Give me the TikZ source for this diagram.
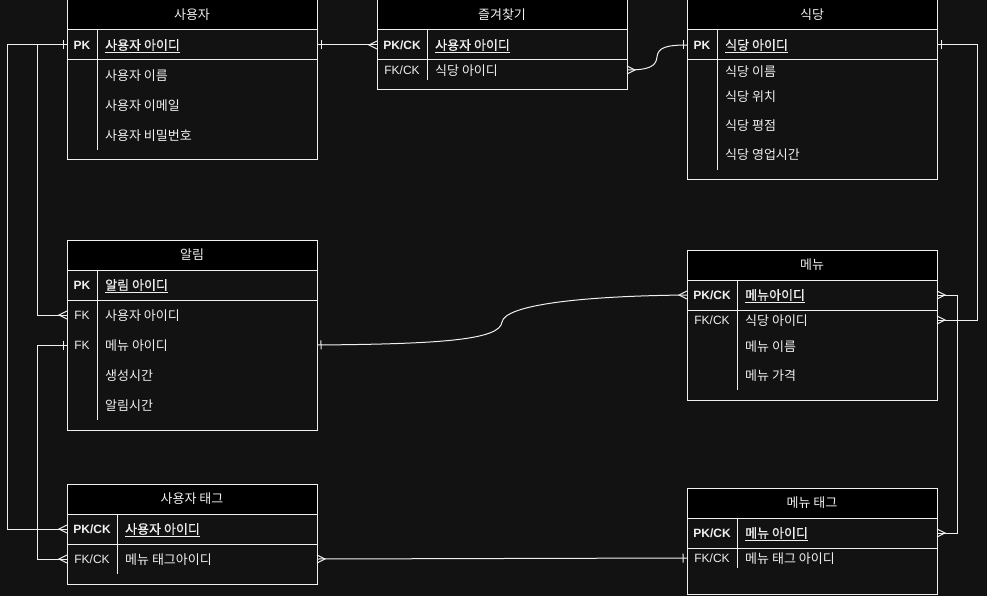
\documentclass[tikz,border=0pt]{standalone}
\usepackage{fontspec}
\setmainfont{Liberation Sans}
\newfontfamily\kr{Noto Sans CJK KR}
\newfontfamily\krbold[FakeBold=0.8]{Noto Sans CJK KR}
\definecolor{bgcol}{HTML}{121212}
\definecolor{linecol}{HTML}{F0F0F0}
\definecolor{textcol}{HTML}{F0F0F0}
\newcommand\erfont{\fontsize{12pt}{14pt}\selectfont}
\newcommand\krfont{\fontsize{13pt}{15pt}\selectfont}

% ER end marks
\pgfdeclarearrow{
  name = erone,
  setup code = {
    \pgfarrowssettipend{0pt}
    \pgfarrowssetlineend{0pt}
    \pgfarrowssetbackend{-5pt}
    \pgfarrowssetvisualbackend{-5pt}
    \pgfarrowshullpoint{-4pt}{4.5pt}
    \pgfarrowshullpoint{-4pt}{-4.5pt}
  },
  drawing code = {
    \pgfpathmoveto{\pgfpoint{-4pt}{4.5pt}}
    \pgfpathlineto{\pgfpoint{-4pt}{-4.5pt}}
    \pgfusepathqstroke
  }
}
\pgfdeclarearrow{
  name = ermany,
  setup code = {
    \pgfarrowssettipend{0pt}
    \pgfarrowssetlineend{0pt}
    \pgfarrowssetbackend{-8pt}
    \pgfarrowssetvisualbackend{-8pt}
    \pgfarrowshullpoint{0pt}{4pt}
    \pgfarrowshullpoint{0pt}{-4pt}
    \pgfarrowshullpoint{-8pt}{0pt}
  },
  drawing code = {
    \pgfpathmoveto{\pgfpoint{0pt}{4pt}}
    \pgfpathlineto{\pgfpoint{-8pt}{0pt}}
    \pgfpathlineto{\pgfpoint{0pt}{-4pt}}
    \pgfusepathqstroke
  }
}

\tikzset{
  tablebox/.style={draw=linecol, line width=1pt, anchor=north west, inner sep=0pt, outer sep=0pt},
  headbox/.style={draw=linecol, fill=black, line width=1pt, minimum height=30pt, anchor=north west,
    inner sep=0pt, outer sep=0pt, font=\kr\krfont, text=textcol},
  rowbox/.style={minimum height=30pt, anchor=west, inner sep=0pt, outer sep=0pt},
  keytext/.style={font=\erfont\bfseries, text=textcol, inner sep=0pt},
  keyplain/.style={font=\erfont, text=textcol, inner sep=0pt},
  keyfield/.style={font=\krbold\krfont, text=textcol, anchor=west, inner sep=0pt, yshift=-1pt},
  fieldtext/.style={font=\kr\krfont, text=textcol, anchor=west, inner sep=0pt, yshift=-1pt},
  sepline/.style={draw=linecol, line width=1pt},
  link/.style={draw=linecol, line width=1pt},
}

\begin{document}
\begin{tikzpicture}[x=1pt, y=-1pt]
	\fill[bgcol] (0,0) rectangle (987,596);
	\useasboundingbox (0,0) rectangle (987,596);
	
	% 사용자
	\node[tablebox, minimum width=250pt, minimum height=160pt] (user) at (67,0) {};
	\node[headbox, minimum width=250pt] (user-head) at (67,0) {사용자};
	\node[rowbox, minimum width=250pt] (user-id) at (67,45) {};
	\draw[sepline] (user-id.south west) -- (user-id.south east);
	\draw[sepline] (97,30) -- (97,150);
	\node[keytext] at (82,45) {PK};
	\node[keyfield] at (105,45) {\underline{사용자 아이디}};
	\node[fieldtext] at (105,75) {사용자 이름};
	\node[fieldtext] at (105,105) {사용자 이메일};
	\node[fieldtext] at (105,135) {사용자 비밀번호};
	
	% 즐겨찾기
	\node[tablebox, minimum width=250pt, minimum height=90pt] (fav) at (377,0) {};
	\node[headbox, minimum width=250pt] (fav-head) at (377,0) {즐겨찾기};
	\node[rowbox, minimum width=250pt] (fav-id) at (377,45) {};
	\node[rowbox, minimum width=250pt, minimum height=20pt] (fav-rest) at (377,70) {};
	\draw[sepline] (fav-id.south west) -- (fav-id.south east);
	\draw[sepline] (427,30) -- (427,80);
	\node[keytext] at (402,45) {PK/CK};
	\node[keyfield] at (435,45) {\underline{사용자 아이디}};
	\node[keyplain] at (402,70) {FK/CK};
	\node[fieldtext] at (435,70) {식당 아이디};
	
	% 식당
	\node[tablebox, minimum width=250pt, minimum height=180pt] (rest) at (687,0) {};
	\node[headbox, minimum width=250pt] (rest-head) at (687,0) {식당};
	\node[rowbox, minimum width=250pt] (rest-id) at (687,45) {};
	\draw[sepline] (rest-id.south west) -- (rest-id.south east);
	\draw[sepline] (717,30) -- (717,170);
	\node[keytext] at (702,45) {PK};
	\node[keyfield] at (725,45) {\underline{식당 아이디}};
	\node[fieldtext] at (725,71) {식당 이름};
	\node[fieldtext] at (725,96) {식당 위치};
	\node[fieldtext] at (725,125) {식당 평점};
	\node[fieldtext] at (725,154) {식당 영업시간};
	
	% 알림
	\node[tablebox, minimum width=250pt, minimum height=190pt] (alarm) at (67,240) {};
	\node[headbox, minimum width=250pt] (alarm-head) at (67,240) {알림};
	\node[rowbox, minimum width=250pt] (alarm-id) at (67,285) {};
	\node[rowbox, minimum width=250pt] (alarm-user) at (67,315) {};
	\node[rowbox, minimum width=250pt] (alarm-menu) at (67,345) {};
	\draw[sepline] (alarm-id.south west) -- (alarm-id.south east);
	\draw[sepline] (97,270) -- (97,420);
	\node[keytext] at (82,285) {PK};
	\node[keyfield] at (105,285) {\underline{알림 아이디}};
	\node[keyplain] at (82,315) {FK};
	\node[fieldtext] at (105,315) {사용자 아이디};
	\node[keyplain] at (82,345) {FK};
	\node[fieldtext] at (105,345) {메뉴 아이디};
	\node[fieldtext] at (105,375) {생성시간};
	\node[fieldtext] at (105,405) {알림시간};
	
	% 메뉴
	\node[tablebox, minimum width=250pt, minimum height=150pt] (menu) at (687,250) {};
	\node[headbox, minimum width=250pt] (menu-head) at (687,250) {메뉴};
	\node[rowbox, minimum width=250pt] (menu-id) at (687,295) {};
	\node[rowbox, minimum width=250pt, minimum height=20pt] (menu-rest) at (687,320) {};
	\draw[sepline] (menu-id.south west) -- (menu-id.south east);
	\draw[sepline] (737,280) -- (737,390);
	\node[keytext] at (712,295) {PK/CK};
	\node[keyfield] at (745,295) {\underline{메뉴아이디}};
	\node[keyplain] at (712,320) {FK/CK};
	\node[fieldtext] at (745,320) {식당 아이디};
	\node[fieldtext] at (745,346) {메뉴 이름};
	\node[fieldtext] at (745,375) {메뉴 가격};
	
	% 사용자 태그
	\node[tablebox, minimum width=250pt, minimum height=100pt] (tagu) at (67,484) {};
	\node[headbox, minimum width=250pt] (tagu-head) at (67,484) {사용자 태그};
	\node[rowbox, minimum width=250pt] (tagu-id) at (67,529) {};
	\node[rowbox, minimum width=250pt] (tagu-menu) at (67,559) {};
	\draw[sepline] (tagu-id.south west) -- (tagu-id.south east);
	\draw[sepline] (117,514) -- (117,574);
	\node[keytext] at (92,529) {PK/CK};
	\node[keyfield] at (125,529) {\underline{사용자 아이디}};
	\node[keyplain] at (92,559) {FK/CK};
	\node[fieldtext] at (125,559) {메뉴 태그아이디};
	
	% 메뉴 태그
	\node[tablebox, minimum width=250pt, minimum height=106pt] (mtag) at (687,488) {};
	\node[headbox, minimum width=250pt] (mtag-head) at (687,488) {메뉴 태그};
	\node[rowbox, minimum width=250pt] (mtag-id) at (687,533) {};
	\node[rowbox, minimum width=250pt, minimum height=20pt] (mtag-menu) at (687,558) {};
	\draw[sepline] (mtag-id.south west) -- (mtag-id.south east);
	\draw[sepline] (737,518) -- (737,568);
	\node[keytext] at (712,533) {PK/CK};
	\node[keyfield] at (745,533) {\underline{메뉴 아이디}};
	\node[keyplain] at (712,558) {FK/CK};
	\node[fieldtext] at (745,558) {메뉴 태그 아이디};
	
	% lanes
	\coordinate (lane-a) at (7,0);
	\coordinate (lane-b) at (37,0);
	\coordinate (lane-c) at (957,0);
	\coordinate (lane-d) at (977,0);
	
	% relations
	\draw[link, erone-ermany] (user-id.east) -- (fav-id.west);
	\draw[link, ermany-erone] (fav-rest.east) .. controls (650,70) and (656,66) .. (657,57)
		.. controls (658,48) and (665,45) .. (rest-id.west);
	\draw[link, erone-ermany] (user-id.west) -- (user-id.west -| lane-a) |- (tagu-id.west);
	\draw[link, erone-ermany] (user-id.west) -- (user-id.west -| lane-b) |- (alarm-user.west);
	\draw[link, erone-ermany] (alarm-menu.west) -- (alarm-menu.west -| lane-b) |- (tagu-menu.west);
	\draw[link, erone-ermany] (alarm-menu.east) .. controls (440,344) and (500,340) .. (502,322)
		.. controls (505,305) and (580,296) .. (menu-id.west);
	\draw[link, erone-ermany] (rest-id.east) -- (rest-id.east -| lane-d) |- (menu-rest.east);
	\draw[link, ermany-ermany] (menu-id.east) -- (menu-id.east -| lane-c) |- (mtag-id.east);
	\draw[link, ermany-erone] (tagu-menu.east) -- (mtag-menu.west);
\end{tikzpicture}
\end{document}
